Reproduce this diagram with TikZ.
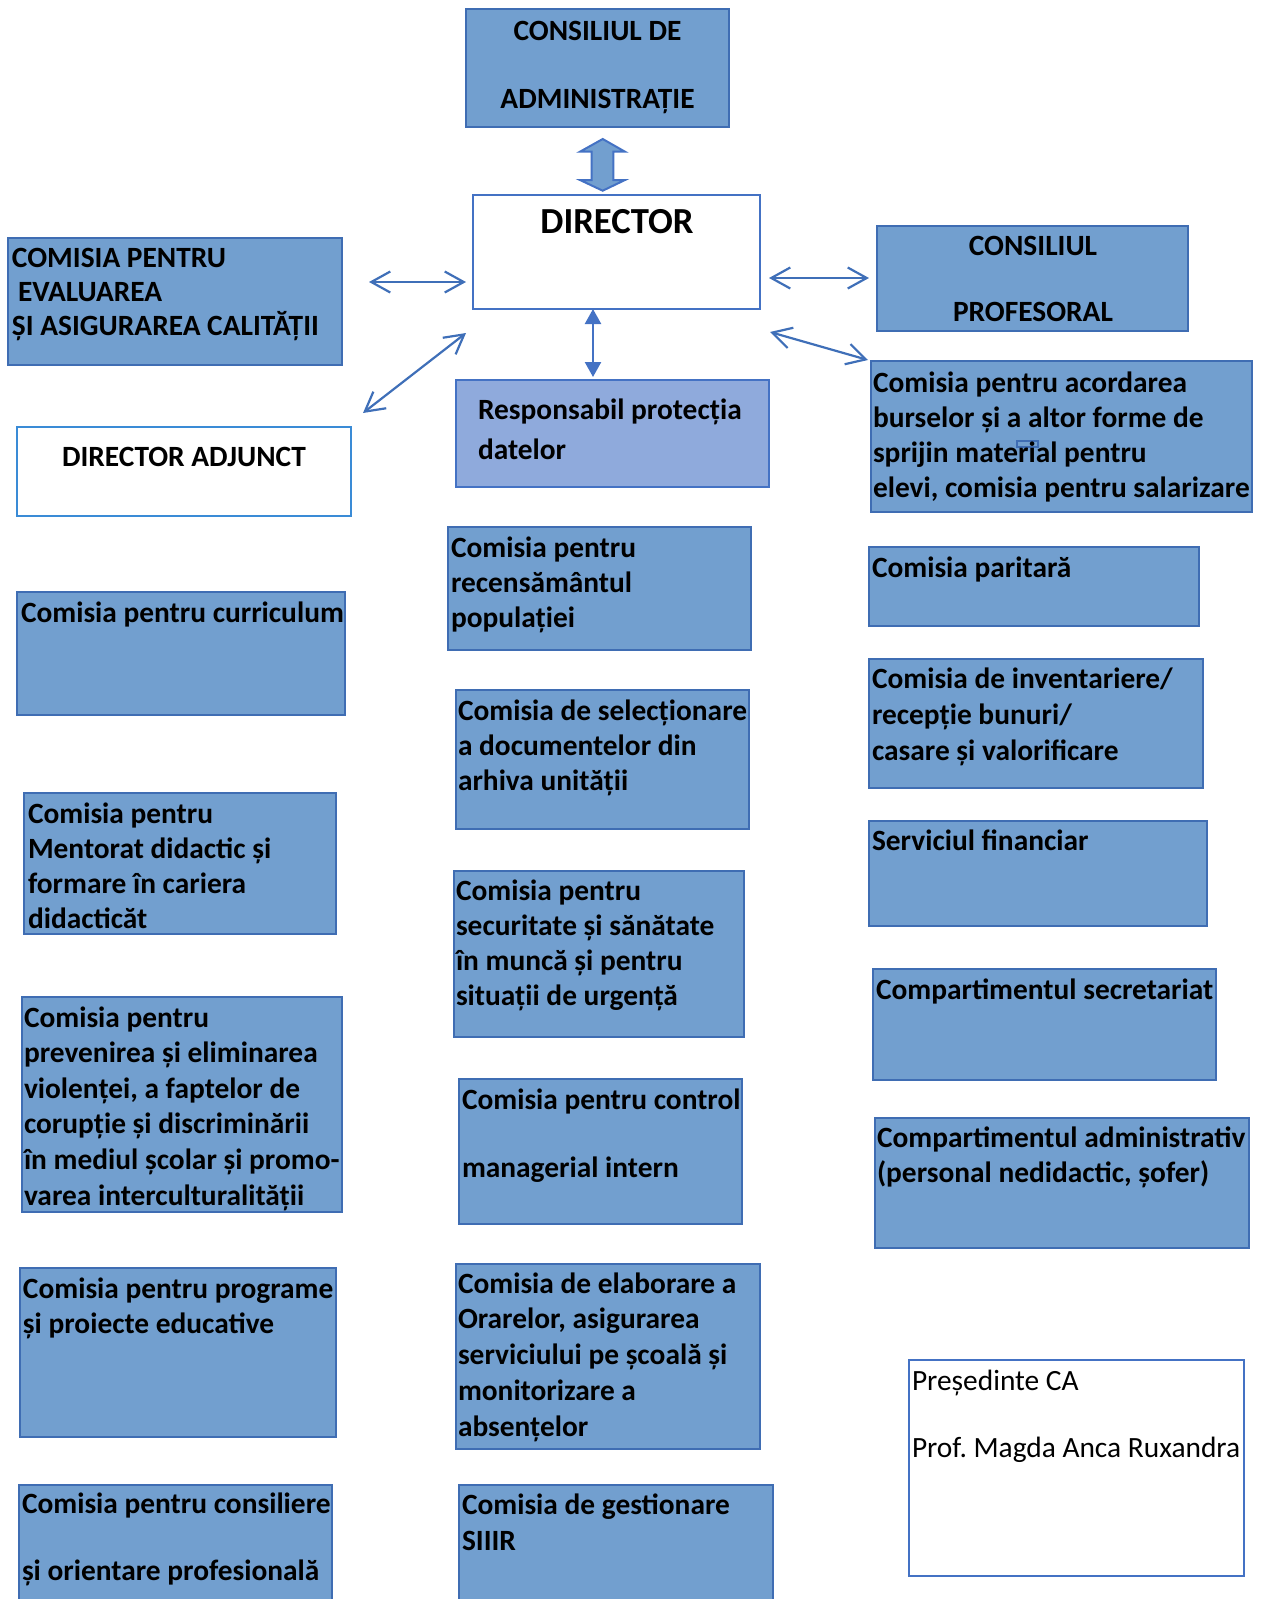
\documentclass[tikz,border=0pt]{standalone}
\usepackage{fontspec}
\setmainfont{Carlito}
\usetikzlibrary{arrows.meta,calc}
\frenchspacing
\definecolor{boxfill}{HTML}{729FCF}
\definecolor{boxdraw}{HTML}{3F6DB3}
\definecolor{respfill}{HTML}{8FAADC}
\definecolor{dirdraw}{HTML}{4472C4}
\definecolor{adjdraw}{HTML}{3A8BD6}
\definecolor{arrowcol}{HTML}{3F6FB8}
\newcommand\bx[6]{\node[#2,anchor=north west,minimum width={(#5-#3)*1pt},minimum height={(#6-#4)*1pt}] (#1) at (#3,#4) {};}
\newcommand\tx[5]{\node[#2,anchor=north west] (#1) at (#3,#4-25) {\rule{0pt}{25pt}#5};}
\newcommand\tc[5]{\node[#2,anchor=north,align=center] (#1) at (#3,#4-25) {\rule{0pt}{25pt}#5};}
\tikzset{
  bluebox/.style={rectangle,inner sep=0pt,outer sep=0pt,fill=boxfill,draw=boxdraw,line width=2.2pt},
  respbox/.style={bluebox,fill=respfill,draw=dirdraw},
  whitebox/.style={rectangle,inner sep=0pt,outer sep=0pt,fill=white,draw=dirdraw,line width=2.2pt},
  adjbox/.style={whitebox,draw=adjdraw},
  txt/.style={inner sep=0pt,outer sep=0pt,align=left,font=\bfseries\fontsize{29.4}{#1}\selectfont},
  txt/.default=35.5,
  rtxt/.style={inner sep=0pt,outer sep=0pt,align=left,font=\fontsize{29.4}{#1}\selectfont},
  rtxt/.default=35.5,
  conn/.style={draw=arrowcol,line width=2.2pt,{Straight Barb[length=19pt,width=21pt]}-{Straight Barb[length=19pt,width=21pt]}},
  vconn/.style={draw=dirdraw,line width=2.4pt,{Triangle[length=15pt,width=16pt]}-{Triangle[length=15pt,width=16pt]}},
  blockarrow/.style={fill=boxfill,draw=dirdraw,line width=2pt,line join=miter}
}
\begin{document}
\begin{tikzpicture}[x=1pt,y=-1pt]
\useasboundingbox (0,0) rectangle (1262,1599);
\lineskiplimit=-1000pt
% boxes
\bx{ca}{bluebox}{466}{9}{729}{127}
\bx{dir}{whitebox}{473}{195}{760}{309}
\bx{ev}{bluebox}{8}{238}{342}{365}
\bx{adj}{adjbox}{17}{427}{351}{516}
\bx{cp}{bluebox}{877}{226}{1188}{331}
\bx{bursa}{bluebox}{871}{361}{1252}{512}
\bx{resp}{respbox}{456}{380}{769}{487}
\bx{curr}{bluebox}{17}{592}{345}{715}
\bx{ment}{bluebox}{24}{793}{336}{934}
\bx{prev}{bluebox}{22}{997}{342}{1212}
\bx{prog}{bluebox}{20}{1268}{336}{1437}
\bx{cons}{bluebox}{19}{1485}{332}{1625}
\bx{recs}{bluebox}{448}{527}{751}{650}
\bx{sel}{bluebox}{456}{690}{749}{829}
\bx{sec}{bluebox}{454}{871}{744}{1037}
\bx{ctrl}{bluebox}{459}{1079}{742}{1224}
\bx{ora}{bluebox}{456}{1264}{760}{1449}
\bx{siiir}{bluebox}{459}{1485}{773}{1625}
\bx{par}{bluebox}{869}{547}{1199}{626}
\bx{inv}{bluebox}{869}{659}{1203}{788}
\bx{fin}{bluebox}{869}{821}{1207}{926}
\bx{secr}{bluebox}{873}{969}{1216}{1080}
\bx{adm}{bluebox}{875}{1118}{1249}{1248}
\bx{pres}{whitebox}{909}{1360}{1244}{1576}
% small artefact box
\draw[draw=boxdraw,line width=1.5pt] (1017,441) rectangle (1038,447);
% texts
\tc{ca-t}{txt}{597.5}{40}{CONSILIUL DE\\[32.5pt]ADMINISTRAȚIE}
\node[inner sep=0pt,anchor=base,font=\bfseries\fontsize{36.7}{43}\selectfont] (dir-t) at (617,233) {DIRECTOR};
\tx{ev-t}{txt=34}{12}{267}{COMISIA PENTRU\\\hspace{6pt}EVALUAREA\\ȘI ASIGURAREA CALITĂȚII}
\tc{adj-t}{txt}{184}{466}{DIRECTOR ADJUNCT}
\tc{cp-t}{txt}{1033}{255}{CONSILIUL\\[30.5pt]PROFESORAL}
\tx{bursa-t}{txt=35}{873}{392}{Comisia pentru acordarea\\burselor și a altor forme de\\sprijin material pentru\\elevi, comisia pentru salarizare}
\tx{resp-t}{txt=40}{478}{419}{Responsabil protecția\\datelor}
\tx{curr-t}{txt}{21}{622}{Comisia pentru curriculum}
\tx{ment-t}{txt=35.3}{28}{823}{Comisia pentru\\Mentorat didactic și\\formare în cariera\\didacticăt}
\tx{prev-t}{txt=35.6}{24}{1027}{Comisia pentru\\prevenirea și eliminarea\\violenței, a faptelor de\\corupție și discriminării\\în mediul școlar și promo-\\varea interculturalității}
\tx{prog-t}{txt=35}{23}{1298}{Comisia pentru programe\\și proiecte educative}
\tx{cons-t}{txt}{22}{1513}{Comisia pentru consiliere\\[31.5pt]și orientare profesională}
\tx{recs-t}{txt=35}{451}{557}{Comisia pentru\\recensământul\\populației}
\tx{sel-t}{txt=35}{458}{720}{Comisia de selecționare\\a documentelor din\\arhiva unității}
\tx{sec-t}{txt=35.3}{456}{900}{Comisia pentru\\securitate și sănătate\\în muncă și pentru\\situații de urgență}
\tx{ctrl-t}{txt}{462}{1109}{Comisia pentru control\\[32.5pt]managerial intern}
\tx{ora-t}{txt=35.75}{458}{1293}{Comisia de elaborare a\\Orarelor, asigurarea\\serviciului pe școală și\\monitorizare a\\absențelor}
\tx{siiir-t}{txt=36}{462}{1514}{Comisia de gestionare\\SIIIR}
\tx{par-t}{txt}{872}{577}{Comisia paritară}
\tx{inv-t}{txt=36}{872}{688}{Comisia de inventariere/\\recepție bunuri/\\casare și valorificare}
\tx{fin-t}{txt}{872}{850}{Serviciul financiar}
\tx{secr-t}{txt}{876}{999}{Compartimentul secretariat}
\tx{adm-t}{txt=35}{877}{1147}{Compartimentul administrativ\\(personal nedidactic, șofer)}
\tx{pres-t}{rtxt}{912}{1390}{Președinte CA\\[31.5pt]Prof. Magda Anca Ruxandra}
% block double arrow between CA and DIRECTOR
\draw[blockarrow] (602.7,139) -- (625,151.7) -- (613.3,151.7) -- (613.3,180) -- (625,180)
  -- (602.7,190.7) -- (580,180) -- (591.7,180) -- (591.7,151.7) -- (580,151.7) -- cycle;
% connectors
\draw[conn] ($(ev.north east)+(27,44)$) -- ($(dir.north west)+(-7,87)$);
\draw[conn] ($(dir.north east)+(9,83)$) -- ($(cp.north west)+(-8,52)$);
\draw[conn] ($(dir.south west)+(-7,24)$) -- ($(adj.north east)+(12,-14)$);
\draw[conn] ($(dir.south east)+(10,23)$) -- ($(bursa.north west)+(-3,-1)$);
\draw[vconn] ($(dir.south west)+(120,0)$) -- ($(resp.north west)+(137,-3)$);
\end{tikzpicture}
\end{document}
